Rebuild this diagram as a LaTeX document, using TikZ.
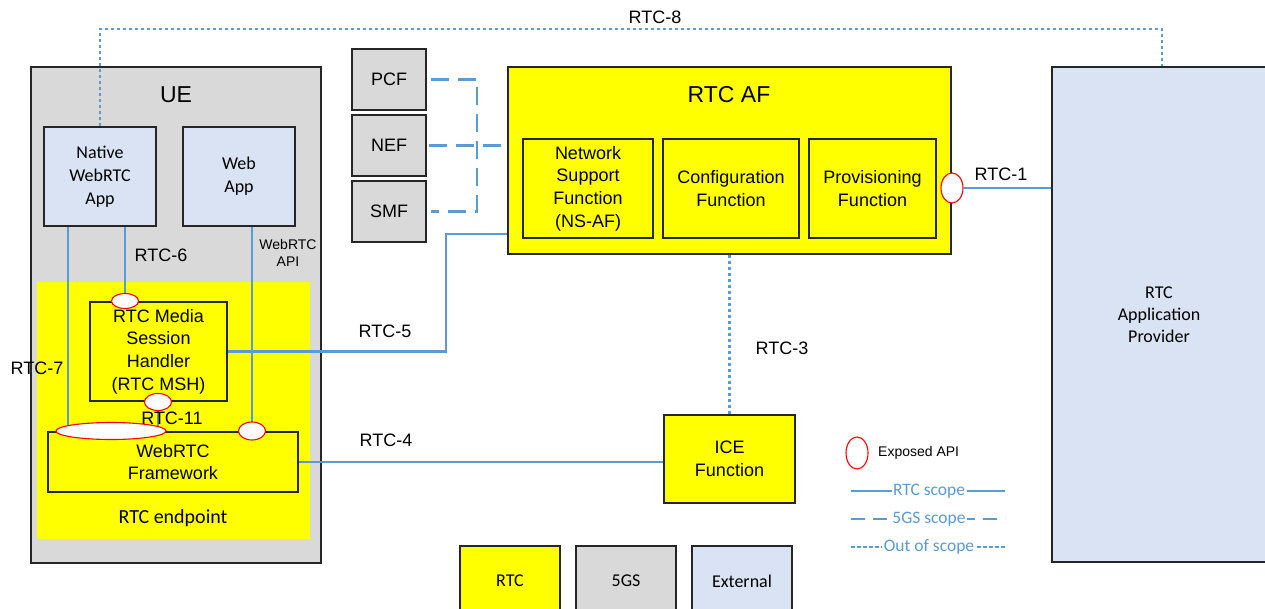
\documentclass[tikz,border=0pt]{standalone}
\usepackage{fontspec}
\setmainfont{Liberation Sans}
\newfontfamily\calfont{Carlito}
\usetikzlibrary{shapes.geometric,calc}
\definecolor{gsgray}{RGB}{217,217,217}
\definecolor{extblue}{RGB}{218,227,243}
\definecolor{lnblue}{RGB}{91,155,213}
\definecolor{ryel}{RGB}{255,255,0}
\definecolor{ared}{RGB}{255,0,0}
\pgfdeclarelayer{lines}
\pgfdeclarelayer{top}
\pgfsetlayers{main,lines,top}
\begin{document}
\begin{tikzpicture}[x=1pt,y=-1pt,
  blk/.style={draw=black!85,line width=1.2pt,inner sep=0pt,align=center},
  gsbox/.style={blk,fill=gsgray},
  rtcbox/.style={blk,fill=ryel},
  extbox/.style={blk,fill=extblue},
  ar/.style={font=\fontsize{18}{22.7}\selectfont},
  cb/.style={font=\calfont\fontsize{18}{23}\selectfont},
  lbl/.style={font=\fontsize{18}{22}\selectfont,inner sep=0pt},
  rtcline/.style={draw=lnblue,line width=2.5pt},
  gsline/.style={draw=lnblue,line width=2.5pt,dash pattern=on 18pt off 9pt},
  oosline/.style={draw=lnblue,line width=2.2pt,dash pattern=on 3.5pt off 2.5pt},
  api/.style={ellipse,draw=ared,line width=1.1pt,fill=white,inner sep=0pt},
  legtxt/.style={fill=white,text=lnblue,inner sep=1.5pt,font=\calfont\fontsize{17.5}{20}\selectfont}
]
\useasboundingbox (0,0) rectangle (1265,609);

% ---------- UE ----------
\node[gsbox,minimum width=290,minimum height=496] (ue) at (176,315) {};
\node[font=\fontsize{23}{27}\selectfont,inner sep=0pt] (uet) at (176,95) {UE};
\node[extbox,cb,minimum width=112,minimum height=99] (native) at (100,176.5) {Native\\WebRTC\\App};
\node[extbox,cb,minimum width=112,minimum height=99] (web) at (239,176.5) {Web\\App};
\node[fill=ryel,minimum width=273,minimum height=257,inner sep=0pt] (ep) at (173.5,410.5) {};
\node[font=\calfont\fontsize{20}{24}\selectfont,inner sep=0pt] (ept) at (173,518) {RTC endpoint};
\node[rtcbox,ar,minimum width=137,minimum height=99] (msh) at (158.5,351.5) {RTC Media\\Session\\Handler\\(RTC MSH)};
\node[rtcbox,ar,minimum width=250,minimum height=60] (fw) at (173,462) {WebRTC\\Framework};

% ---------- 5GS NFs ----------
\node[gsbox,ar,minimum width=74,minimum height=61] (pcf) at (389,79.5) {PCF};
\node[gsbox,ar,minimum width=74,minimum height=61] (nef) at (389,145.5) {NEF};
\node[gsbox,ar,minimum width=74,minimum height=61] (smf) at (389,211.5) {SMF};

% ---------- RTC AF ----------
\node[rtcbox,minimum width=443,minimum height=187] (af) at (729.5,160.5) {};
\node[font=\fontsize{23}{27}\selectfont,inner sep=0pt] (aft) at (729,95) {RTC AF};
\node[rtcbox,ar,minimum width=130,minimum height=99] (nsaf) at (588,188.5) {Network\\Support\\Function\\(NS-AF)};
\node[rtcbox,ar,minimum width=136,minimum height=99] (cfg) at (731,188.5) {Configuration\\Function};
\node[rtcbox,ar,minimum width=127,minimum height=99] (prv) at (872.5,188.5) {Provisioning\\Function};

% ---------- ICE ----------
\node[rtcbox,ar,minimum width=131,minimum height=88] (ice) at (729.5,459) {ICE\\Function};

% ---------- Application provider ----------
\node[extbox,font=\calfont\fontsize{18}{22}\selectfont,minimum width=214,minimum height=495] (prov) at (1159,314.5) {RTC\\Application\\Provider};

% ---------- legend boxes ----------
\node[rtcbox,cb,minimum width=100,minimum height=70] (lrtc) at (510,581) {RTC};
\node[gsbox,cb,minimum width=100,minimum height=70] (l5gs) at (626,581) {5GS};
\node[extbox,cb,minimum width=100,minimum height=70] (lext) at (742,581) {External};

% ---------- exposed API ellipses ----------
\begin{pgfonlayer}{top}
\node[api,minimum width=27,minimum height=15] (mshtop) at (125,301) {};
\node[api,minimum width=27,minimum height=17] (mshbot) at (158,402) {};
\node[api,minimum width=110,minimum height=17] (fwL) at (111,431) {};
\node[api,minimum width=27,minimum height=18] (fwR) at (252,431) {};
\node[api,minimum width=22,minimum height=30] (afR) at (952,188) {};
\node[api,minimum width=22,minimum height=32] (leg) at (857,453) {};
\end{pgfonlayer}

% ---------- connectors ----------
\coordinate (k5) at (446,234);
\coordinate (k8) at (1162,29);
\coordinate (jg) at (477,211.5);
\begin{pgfonlayer}{lines}
\draw[rtcline] ([xshift=-32pt]native.south) -- ([xshift=-32pt]native.south |- fwL.center);
\draw[rtcline] (native.south -| mshtop.center) -- (mshtop.center);
\draw[rtcline] (web.south -| fwR.center) -- (fwR.center);
\draw[rtcline] (mshbot.center) -- (mshbot.center |- fwL.center);
\draw[rtcline] (msh.east) -| (k5) -- (af.west |- k5);
\draw[rtcline] (fw.east) -- (fw.east -| ice.west);
\draw[rtcline] (afR.east) -- (prov.west |- afR.east);
\draw[oosline] (af.south) -- (ice.north);
\draw[oosline] (native.north) |- (k8) -- (k8 |- prov.north);
\draw[gsline] ([xshift=4pt]pcf.east) -| (jg) -- ([xshift=4pt]smf.east);
\draw[gsline] ([xshift=2pt]nef.east) -- (af.west |- nef.east);
\end{pgfonlayer}

% ---------- labels ----------
\node[lbl] (r6) at (161,255) {RTC-6};
\node[font=\fontsize{14}{16.5}\selectfont,inner sep=0pt,align=center] (wapi) at (288,253) {WebRTC\\API};
\node[lbl] (r7) at (37,368) {RTC-7};
\begin{pgfonlayer}{top}
\node[lbl] (r11) at (172,418) {RTC-11};
\end{pgfonlayer}
\node[lbl] (r5) at (385,331) {RTC-5};
\node[lbl] (r4) at (386,440) {RTC-4};
\node[lbl] (r3) at (782,348) {RTC-3};
\node[lbl] (r1) at (1001,174) {RTC-1};
\node[lbl] (r8) at (655,17) {RTC-8};

% ---------- legend ----------
\node[font=\fontsize{14}{16}\selectfont,inner sep=0pt,anchor=west] (legt) at (878,453) {Exposed API};
\coordinate (la1) at (851,491); \coordinate (lb1) at (1005,491);
\coordinate (la2) at (851,519); \coordinate (lb2) at (1005,519);
\coordinate (la3) at (851,547); \coordinate (lb3) at (1005,547);
\draw[rtcline] (la1) -- (lb1);
\draw[gsline,dash pattern=on 14pt off 8pt] (la2) -- (lb2);
\draw[oosline] (la3) -- (lb3);
\node[legtxt] (lt1) at (929,491) {RTC scope};
\node[legtxt] (lt2) at (929,519) {5GS scope};
\node[legtxt] (lt3) at (929,547) {Out of scope};
\end{tikzpicture}
\end{document}
